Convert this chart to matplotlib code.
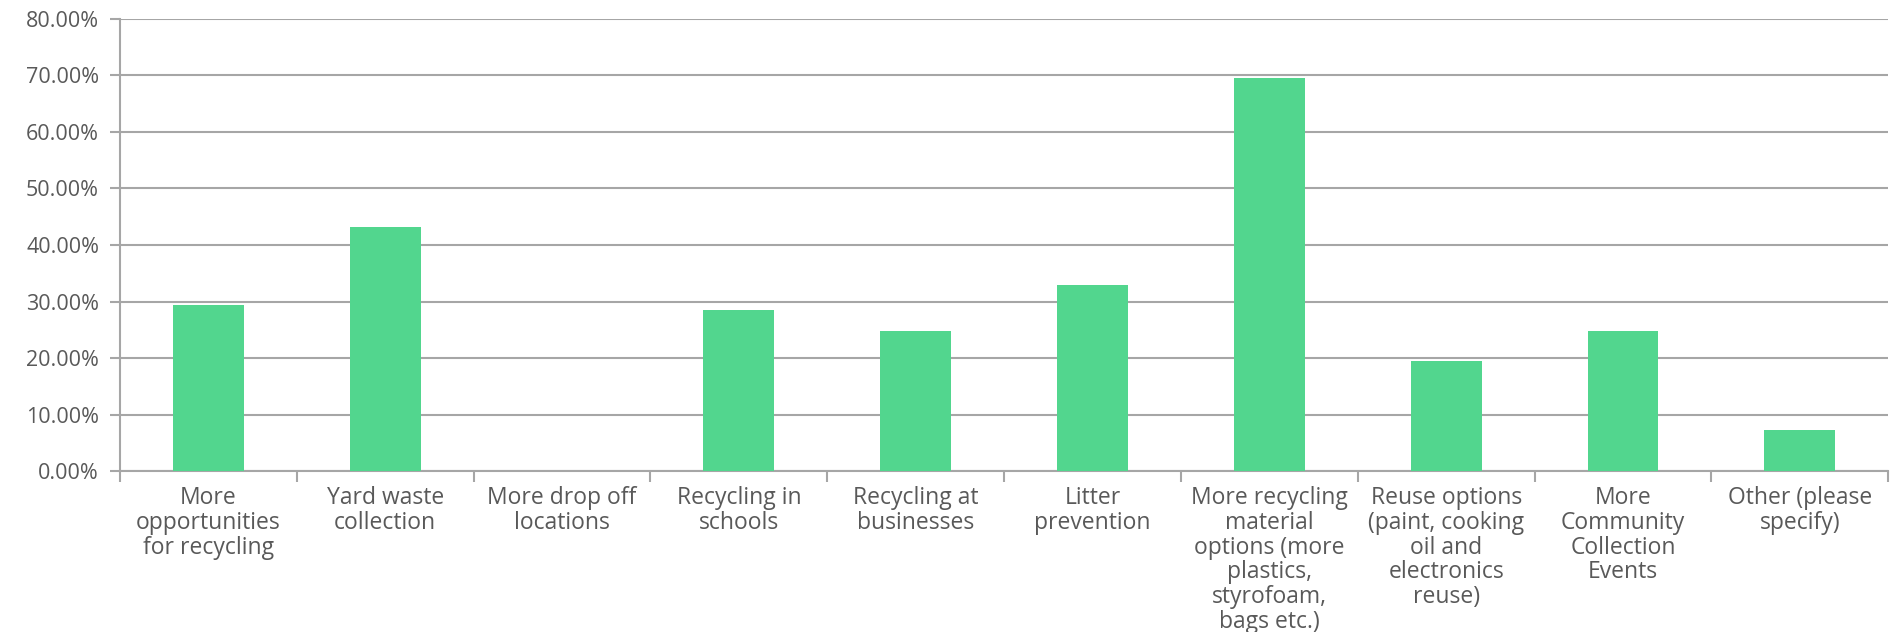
import matplotlib.pyplot as plt
from matplotlib.ticker import FuncFormatter, MultipleLocator
import numpy as np

# survey categories and share of respondents (percent)
categories = [
    "More\nopportunities\nfor recycling",
    "Yard waste\ncollection",
    "More drop off\nlocations",
    "Recycling in\nschools",
    "Recycling at\nbusinesses",
    "Litter\nprevention",
    "More recycling\nmaterial\noptions (more\nplastics,\nstyrofoam,\nbags etc.)",
    "Reuse options\n(paint, cooking\noil and\nelectronics\nreuse)",
    "More\nCommunity\nCollection\nEvents",
    "Other (please\nspecify)",
]
percentages = [29.4, 43.1, 0.0, 28.5, 24.7, 33.0, 69.5, 19.4, 24.8, 7.3]

bar_color = "#52D68E"
grid_color = "#A6A6A6"
text_color = "#595959"

plt.rcParams["font.family"] = ["Open Sans", "DejaVu Sans"]

fig = plt.figure(figsize=(18.92, 6.32), dpi=100)
ax = fig.add_axes([0.0634, 0.2547, 0.9346, 0.7153])

x = np.arange(len(categories))
ax.bar(x, percentages, width=0.4, color=bar_color, zorder=3)

ax.set_xlim(-0.5, len(categories) - 0.5)
ax.set_ylim(0, 80)
ax.yaxis.set_major_locator(MultipleLocator(10))
ax.yaxis.set_major_formatter(FuncFormatter(lambda v, p: f"{v:.2f}%"))
ax.grid(axis="y", color=grid_color, linewidth=1.5, zorder=0)

# category labels centered, tick marks at category boundaries
ax.set_xticks(x)
ax.set_xticklabels(categories, fontsize=16.5, color=text_color, linespacing=1.04)
ax.tick_params(axis="x", which="major", length=0, pad=11)
ax.set_xticks(np.arange(len(categories) + 1) - 0.5, minor=True)
ax.tick_params(axis="x", which="minor", length=8, width=1.5, color=grid_color)
ax.tick_params(axis="y", length=7, width=1.5, color=grid_color,
               labelsize=15.5, labelcolor=text_color, pad=8)

for side in ["top", "right"]:
    ax.spines[side].set_visible(False)
for side in ["left", "bottom"]:
    ax.spines[side].set_color(grid_color)
    ax.spines[side].set_linewidth(1.5)

fig.savefig("out.png", dpi=100)
